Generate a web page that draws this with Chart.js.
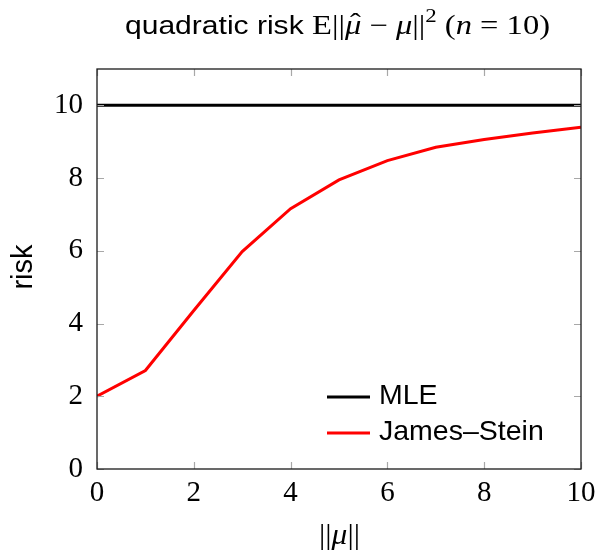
<!DOCTYPE html>
<html>
<head>
<meta charset="utf-8">
<script src="https://cdn.jsdelivr.net/npm/chart.js@4"></script>
<style>
  html, body { margin: 0; padding: 0; background: #fff; }
  #wrap { width: 599px; height: 551px; position: relative; }
</style>
</head>
<body>
<div id="wrap"><canvas id="chart" width="599" height="551"></canvas></div>
<script>
const normValues = [0, 1, 2, 3, 4, 5, 6, 7, 8, 9, 10];
const mleRisk = [10, 10, 10, 10, 10, 10, 10, 10, 10, 10, 10];
const jamesSteinRisk = [2.0, 2.71, 4.36, 5.98, 7.16, 7.95, 8.48, 8.85, 9.06, 9.24, 9.40];
const xTicks = [0, 2, 4, 6, 8, 10];
const yTicks = [0, 2, 4, 6, 8, 10];

const SERIF = '"Liberation Serif", "DejaVu Serif", serif';
const SANS = '"Liberation Sans", Arial, sans-serif';

function toPoints(values) {
    return normValues.map((x, i) => ({ x: x, y: values[i] }));
}

// draws a run of text pieces with their own fonts between left and right
function drawPieces(ctx, pieces, left, right, baseline) {
    let total = 0;
    pieces.forEach(p => { ctx.font = p.font; total += ctx.measureText(p.text).width; });
    const sx = (right - left) / total;
    ctx.save();
    ctx.translate(left, baseline);
    ctx.scale(sx, 1);
    ctx.textBaseline = 'alphabetic';
    let x = 0;
    pieces.forEach(p => {
        ctx.font = p.font;
        const w = ctx.measureText(p.text).width;
        ctx.textAlign = 'left';
        ctx.fillText(p.text, x, p.dy || 0);
        if (p.hat) {
            ctx.font = p.font.replace('italic ', '');
            ctx.textAlign = 'center';
            ctx.fillText('\u02c6', x + w / 2 + 2, -2);
        }
        x += w;
    });
    ctx.restore();
}

const framePlugin = {
    id: 'frame',
    afterDatasetsDraw(chart) {
        const { ctx, chartArea: a, scales } = chart;
        ctx.save();
        // inner tick marks on all four sides
        ctx.strokeStyle = '#a8a8a8';
        ctx.lineWidth = 1.2;
        const len = 7;
        xTicks.forEach(v => {
            const px = Math.round(scales.x.getPixelForValue(v)) + 0.5;
            ctx.beginPath();
            ctx.moveTo(px, a.bottom); ctx.lineTo(px, a.bottom - len);
            ctx.moveTo(px, a.top); ctx.lineTo(px, a.top + len);
            ctx.stroke();
        });
        yTicks.forEach(v => {
            const py = Math.round(scales.y.getPixelForValue(v)) + 0.5;
            ctx.beginPath();
            ctx.moveTo(a.left, py); ctx.lineTo(a.left + len, py);
            ctx.moveTo(a.right, py); ctx.lineTo(a.right - len, py);
            ctx.stroke();
        });
        ctx.strokeStyle = '#1a1a1a';
        ctx.lineWidth = 1.3;
        ctx.strokeRect(a.left, a.top, a.right - a.left, a.bottom - a.top);

        // legend inside the plot, lower right
        const items = chart.data.datasets;
        ctx.font = '28.5px ' + SANS;
        ctx.textBaseline = 'alphabetic';
        ctx.textAlign = 'left';
        items.forEach((ds, i) => {
            const y = 397 + i * 36;
            ctx.strokeStyle = ds.borderColor;
            ctx.lineWidth = 3;
            ctx.beginPath();
            ctx.moveTo(327, y); ctx.lineTo(370, y);
            ctx.stroke();
            ctx.fillStyle = '#000';
            ctx.fillText(ds.label, 379, y + 7);
        });

        // title
        ctx.fillStyle = '#000';
        drawPieces(ctx, [
            { text: 'quadratic risk ', font: '25px ' + SANS }
        ], 125, 312, 34);
        drawPieces(ctx, [
            { text: 'E||', font: '27px ' + SERIF },
            { text: '\u03bc', font: 'italic 27px ' + SERIF, hat: true },
            { text: ' \u2212 ', font: '27px ' + SERIF },
            { text: '\u03bc', font: 'italic 27px ' + SERIF },
            { text: '||', font: '27px ' + SERIF },
            { text: '2', font: '19px ' + SERIF, dy: -12 },
            { text: ' (', font: '27px ' + SERIF },
            { text: 'n', font: 'italic 27px ' + SERIF },
            { text: ' = 10)', font: '27px ' + SERIF }
        ], 312, 550, 34);

        // x axis title
        drawPieces(ctx, [
            { text: '||', font: '30px ' + SERIF },
            { text: '\u03bc', font: 'italic 30px ' + SERIF },
            { text: '||', font: '30px ' + SERIF }
        ], 319, 360, 544);

        // y axis title
        ctx.translate(32, 267);
        ctx.rotate(-Math.PI / 2);
        ctx.font = '29px ' + SANS;
        ctx.textAlign = 'center';
        ctx.textBaseline = 'alphabetic';
        ctx.fillText('risk', 0, 0);
        ctx.restore();
    }
};

const ctx = document.getElementById('chart').getContext('2d');
const myChart = new Chart(ctx, {
    type: 'line',
    data: {
        datasets: [
            {
                label: 'MLE',
                data: toPoints(mleRisk),
                borderColor: '#000000',
                borderWidth: 3,
                pointRadius: 0,
                fill: false,
                tension: 0
            },
            {
                label: 'James\u2013Stein',
                data: toPoints(jamesSteinRisk),
                borderColor: '#ff0000',
                borderWidth: 3,
                pointRadius: 0,
                fill: false,
                tension: 0
            }
        ]
    },
    plugins: [framePlugin],
    options: {
        responsive: false,
        animation: false,
        layout: { padding: { left: 0, top: 69, right: 18, bottom: 0 } },
        plugins: {
            legend: { display: false },
            tooltip: { enabled: false }
        },
        scales: {
            x: {
                type: 'linear',
                min: 0,
                max: 10,
                afterFit: s => { s.height = 82; s.paddingLeft = 0; s.paddingRight = 0; },
                afterBuildTicks: s => { s.ticks = xTicks.map(v => ({ value: v })); },
                grid: { display: false, drawTicks: false },
                border: { display: false },
                ticks: {
                    padding: 7,
                    color: '#000',
                    font: { family: SERIF, size: 29 }
                }
            },
            y: {
                min: 0,
                max: 11,
                afterFit: s => { s.width = 97; s.paddingTop = 0; s.paddingBottom = 0; },
                afterBuildTicks: s => { s.ticks = yTicks.map(v => ({ value: v })); },
                grid: { display: false, drawTicks: false },
                border: { display: false },
                ticks: {
                    padding: 14,
                    color: '#000',
                    font: { family: SERIF, size: 29 }
                }
            }
        }
    }
});
</script>
</body>
</html>
